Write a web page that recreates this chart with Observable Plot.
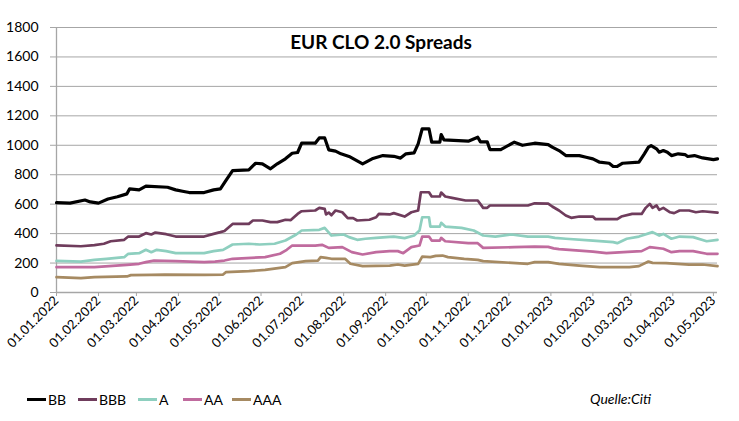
<!DOCTYPE html>
<html>
<head>
<meta charset="utf-8">
<script src="https://cdn.jsdelivr.net/npm/d3@7"></script>
<script src="https://cdn.jsdelivr.net/npm/@observablehq/plot@0.6"></script>
<style>
  html, body { margin: 0; padding: 0; background: #fff; }
  #wrap { position: relative; width: 739px; height: 421px; font-family: Lato, "Noto Sans", sans-serif; overflow: hidden; }
  #legend { position: absolute; left: 0; top: 380px; width: 739px; height: 41px; font-size: 14px; color: #000; }
  .item { position: absolute; top: 10px; display: flex; align-items: center; height: 18px; }
  .sw { width: 19px; height: 3px; margin-right: 2px; }
  #src { position: absolute; left: 590px; top: 10px; font-style: italic; font-size: 14px; height: 18px; line-height: 18px; }
</style>
</head>
<body>
<div id="wrap">
  <div id="chart"></div>
  <div id="legend"></div>
</div>
<script>
const title = "EUR CLO 2.0 Spreads";
const source = "Quelle:Citi";
const seriesNames = ["BB", "BBB", "A", "AA", "AAA"];
const seriesColors = ["#000000", "#6f3c5c", "#8ecfbf", "#c06b9e", "#a68a62"];
const yTicks = [0, 200, 400, 600, 800, 1000, 1200, 1400, 1600, 1800];
const xTicks = ["2022-01-01","2022-02-01","2022-03-01","2022-04-01","2022-05-01","2022-06-01","2022-07-01","2022-08-01","2022-09-01","2022-10-01","2022-11-01","2022-12-01","2023-01-01","2023-02-01","2023-03-01","2023-04-01","2023-05-01"];
const xDomain = ["2022-01-01", "2023-05-04"];

const BB = [["2022-01-01",610],["2022-01-11",607],["2022-01-22",628],["2022-01-26",615],["2022-02-01",607],["2022-02-08",635],["2022-02-15",650],["2022-02-22",670],["2022-02-24",704],["2022-03-03",697],["2022-03-08",722],["2022-03-24",715],["2022-03-30",697],["2022-04-05",686],["2022-04-09",679],["2022-04-20",679],["2022-04-27",697],["2022-05-02",704],["2022-05-06",760],["2022-05-11",828],["2022-05-23",833],["2022-05-28",878],["2022-06-02",874],["2022-06-08",840],["2022-06-13",874],["2022-06-19",908],["2022-06-24",946],["2022-06-28",951],["2022-07-01",1014],["2022-07-11",1014],["2022-07-14",1050],["2022-07-18",1050],["2022-07-21",969],["2022-07-26",960],["2022-07-30",942],["2022-08-05",924],["2022-08-15",874],["2022-08-22",908],["2022-08-30",930],["2022-09-07",925],["2022-09-12",913],["2022-09-16",942],["2022-09-22",948],["2022-09-25",1010],["2022-09-28",1112],["2022-10-03",1112],["2022-10-05",1021],["2022-10-11",1021],["2022-10-12",1073],["2022-10-14",1037],["2022-11-01",1028],["2022-11-08",1055],["2022-11-10",1023],["2022-11-15",1023],["2022-11-17",971],["2022-11-25",971],["2022-12-05",1021],["2022-12-11",1000],["2022-12-20",1014],["2022-12-30",1005],["2023-01-02",987],["2023-01-07",964],["2023-01-12",930],["2023-01-22",930],["2023-01-27",919],["2023-02-01",908],["2023-02-06",885],["2023-02-13",878],["2023-02-16",856],["2023-02-19",856],["2023-02-23",878],["2023-03-07",885],["2023-03-11",942],["2023-03-14",987],["2023-03-16",998],["2023-03-20",976],["2023-03-22",953],["2023-03-25",964],["2023-03-28",953],["2023-03-31",930],["2023-04-05",942],["2023-04-10",937],["2023-04-12",924],["2023-04-17",930],["2023-04-23",914],["2023-05-01",903],["2023-05-04",908]];

const BBB = [["2022-01-01",320],["2022-01-19",314],["2022-01-29",322],["2022-02-05",331],["2022-02-10",348],["2022-02-20",358],["2022-02-23",380],["2022-03-03",380],["2022-03-08",403],["2022-03-12",394],["2022-03-15",407],["2022-03-23",396],["2022-03-30",380],["2022-04-20",380],["2022-04-27",398],["2022-05-02",410],["2022-05-05",418],["2022-05-11",466],["2022-05-23",466],["2022-05-26",489],["2022-06-02",489],["2022-06-08",478],["2022-06-13",478],["2022-06-19",494],["2022-06-23",492],["2022-06-28",534],["2022-07-01",552],["2022-07-11",557],["2022-07-14",575],["2022-07-18",568],["2022-07-19",530],["2022-07-21",543],["2022-07-23",525],["2022-07-26",557],["2022-07-31",545],["2022-08-04",505],["2022-08-08",505],["2022-08-11",489],["2022-08-20",494],["2022-08-25",511],["2022-08-27",534],["2022-09-04",530],["2022-09-07",539],["2022-09-15",516],["2022-09-20",545],["2022-09-25",557],["2022-09-27",681],["2022-10-03",681],["2022-10-05",652],["2022-10-11",652],["2022-10-12",679],["2022-10-15",652],["2022-10-20",643],["2022-10-30",625],["2022-11-08",625],["2022-11-12",575],["2022-11-15",575],["2022-11-17",591],["2022-12-15",591],["2022-12-20",606],["2022-12-30",604],["2023-01-02",584],["2023-01-07",557],["2023-01-12",523],["2023-01-16",507],["2023-01-22",516],["2023-02-01",516],["2023-02-03",498],["2023-02-19",498],["2023-02-22",516],["2023-03-02",534],["2023-03-09",534],["2023-03-12",575],["2023-03-15",602],["2023-03-17",575],["2023-03-20",591],["2023-03-22",561],["2023-03-25",575],["2023-03-30",545],["2023-04-02",539],["2023-04-06",557],["2023-04-13",557],["2023-04-18",545],["2023-04-23",552],["2023-05-04",543]];

const A = [["2022-01-01",215],["2022-01-19",210],["2022-01-29",222],["2022-02-07",229],["2022-02-20",240],["2022-02-23",263],["2022-03-03",267],["2022-03-08",290],["2022-03-12",274],["2022-03-16",290],["2022-03-23",281],["2022-03-30",267],["2022-04-20",267],["2022-04-27",281],["2022-05-04",290],["2022-05-11",326],["2022-05-23",331],["2022-05-31",326],["2022-06-11",331],["2022-06-19",353],["2022-06-27",394],["2022-07-01",421],["2022-07-14",426],["2022-07-18",439],["2022-07-23",387],["2022-08-01",394],["2022-08-05",376],["2022-08-11",358],["2022-08-17",365],["2022-08-25",371],["2022-09-04",378],["2022-09-07",380],["2022-09-15",369],["2022-09-22",387],["2022-09-26",421],["2022-09-28",511],["2022-10-03",511],["2022-10-04",448],["2022-10-11",448],["2022-10-12",473],["2022-10-15",448],["2022-10-27",439],["2022-11-05",421],["2022-11-12",387],["2022-11-21",380],["2022-12-03",394],["2022-12-15",380],["2022-12-30",380],["2023-01-04",371],["2023-01-12",365],["2023-02-01",353],["2023-02-16",342],["2023-02-19",335],["2023-02-26",365],["2023-03-07",380],["2023-03-17",410],["2023-03-22",387],["2023-03-25",398],["2023-03-31",365],["2023-04-06",380],["2023-04-16",376],["2023-04-26",348],["2023-05-04",358]];

const AA = [["2022-01-01",172],["2022-01-29",172],["2022-02-22",188],["2022-03-03",195],["2022-03-08",206],["2022-03-14",217],["2022-03-30",213],["2022-04-20",206],["2022-04-28",210],["2022-05-05",217],["2022-05-11",229],["2022-06-04",240],["2022-06-15",263],["2022-06-20",290],["2022-06-24",319],["2022-07-11",319],["2022-07-16",324],["2022-07-21",303],["2022-07-31",308],["2022-08-07",274],["2022-08-15",258],["2022-08-25",274],["2022-09-04",281],["2022-09-10",281],["2022-09-14",267],["2022-09-20",308],["2022-09-26",319],["2022-09-28",380],["2022-10-03",380],["2022-10-05",353],["2022-10-11",353],["2022-10-12",371],["2022-10-15",348],["2022-11-01",335],["2022-11-08",335],["2022-11-12",303],["2022-12-05",308],["2022-12-20",312],["2022-12-30",310],["2023-01-03",300],["2023-01-07",295],["2023-02-01",278],["2023-02-11",267],["2023-03-02",278],["2023-03-09",281],["2023-03-15",308],["2023-03-25",297],["2023-03-31",274],["2023-04-06",281],["2023-04-16",281],["2023-04-26",263],["2023-05-04",263]];

const AAA = [["2022-01-01",104],["2022-01-19",97],["2022-01-29",104],["2022-02-22",109],["2022-02-25",118],["2022-03-12",120],["2022-03-22",122],["2022-04-20",120],["2022-05-04",122],["2022-05-06",138],["2022-05-23",145],["2022-06-04",154],["2022-06-19",172],["2022-06-24",199],["2022-07-04",213],["2022-07-13",217],["2022-07-15",240],["2022-07-19",235],["2022-07-23",229],["2022-08-02",229],["2022-08-06",195],["2022-08-15",179],["2022-09-04",183],["2022-09-10",190],["2022-09-15",183],["2022-09-25",195],["2022-09-28",244],["2022-10-04",240],["2022-10-08",249],["2022-10-13",251],["2022-10-17",240],["2022-10-29",229],["2022-11-08",222],["2022-11-12",213],["2022-12-15",195],["2022-12-20",206],["2022-12-30",206],["2023-01-07",195],["2023-01-22",183],["2023-02-06",172],["2023-02-28",172],["2023-03-07",179],["2023-03-14",210],["2023-03-17",201],["2023-03-27",199],["2023-04-13",190],["2023-04-23",190],["2023-05-04",179]];

const seriesData = {BB, BBB, A, AA, AAA};
const seriesWidths = {BB: 3.2, BBB: 2.7, A: 2.7, AA: 2.7, AAA: 2.7};

const table = seriesNames.flatMap(s => seriesData[s].map(([d, v]) => ({series: s, date: new Date(d), value: v})));

const fmt = d3.utcFormat("%d.%m.%Y");

const chart = Plot.plot({
  width: 739,
  height: 380,
  marginTop: 27,
  marginLeft: 56,
  marginRight: 22,
  marginBottom: 88,
  style: {fontFamily: "Lato, 'Noto Sans', sans-serif", fontSize: "13px", color: "#000", background: "#fff", overflow: "visible"},
  x: {type: "utc", domain: xDomain.map(d => new Date(d))},
  y: {domain: [0, 1800]},
  color: {domain: seriesNames, range: seriesColors},
  marks: [
    Plot.gridY(yTicks, {stroke: "#a6a6a6", strokeOpacity: 1, strokeWidth: 1}),
    Plot.ruleY([0], {stroke: "#a6a6a6", strokeWidth: 1.3}),
    Plot.ruleX([new Date(xDomain[0])], {stroke: "#a6a6a6", strokeWidth: 1.3}),
    Plot.axisY(yTicks, {tickSize: 6, tickPadding: 12, stroke: "#a6a6a6", label: null, fontSize: 14, tickFormat: d => String(d)}),
    Plot.axisX(xTicks.map(d => new Date(d)), {tickSize: 4, tickPadding: 2, tickRotate: -45, tickFormat: fmt, stroke: "#a6a6a6", label: null, fontSize: 13}),
    ...seriesNames.map(s => Plot.line(table.filter(d => d.series === s), {
      x: "date", y: "value", stroke: "series", strokeWidth: seriesWidths[s], strokeLinejoin: "round", strokeLinecap: "round"
    })),
    Plot.text([title], {frameAnchor: "top", dx: -6, dy: 8, fontSize: 19, fontWeight: "bold", fill: "#000"})
  ]
});
document.getElementById("chart").appendChild(chart);

const legend = document.getElementById("legend");
const legendLeft = [27, 78, 138, 183, 232];
seriesNames.forEach((s, i) => {
  const item = document.createElement("div");
  item.className = "item";
  item.style.left = legendLeft[i] + "px";
  const sw = document.createElement("span");
  sw.className = "sw";
  sw.style.background = seriesColors[i];
  const t = document.createElement("span");
  t.textContent = s;
  item.appendChild(sw);
  item.appendChild(t);
  legend.appendChild(item);
});
const src = document.createElement("div");
src.id = "src";
src.textContent = source;
legend.appendChild(src);
</script>
</body>
</html>
